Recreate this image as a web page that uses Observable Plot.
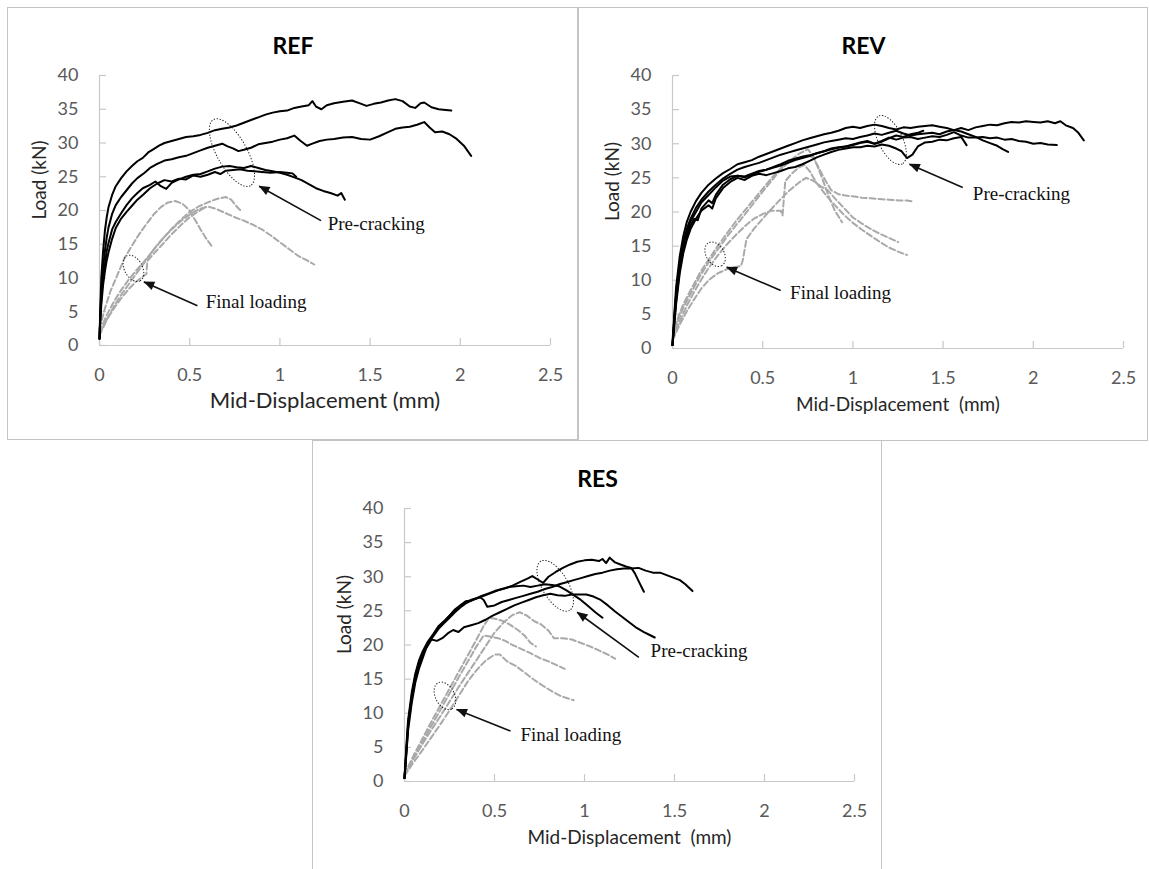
<!DOCTYPE html>
<html><head><meta charset="utf-8">
<script src="https://cdn.jsdelivr.net/npm/d3@7"></script>
<script src="https://cdn.jsdelivr.net/npm/@observablehq/plot@0.6"></script>
<style>
html,body{margin:0;padding:0;background:#fff;}
#page{position:relative;width:1149px;height:869px;overflow:hidden;background:#fff;}
.box{position:absolute;border:1px solid #c4c4c4;box-sizing:border-box;}
.chart{position:absolute;}
.chart svg{display:block;overflow:visible;}
</style></head><body><div id="page"></div>
<script>
// ---------- shared tick values ----------
const xTicks = [0, 0.5, 1, 1.5, 2, 2.5];
const yTicks = [0, 5, 10, 15, 20, 25, 30, 35, 40];

// ---------- REF ----------
const REF_pre = [
 [[0,1],[0.005,6],[0.01,10],[0.02,14],[0.03,17],[0.04,19],[0.05,20.5],[0.07,22.3],[0.09,23.6],[0.12,24.8],[0.15,25.8],[0.18,26.6],[0.21,27.3],[0.24,27.8],[0.27,28.6],[0.3,29.1],[0.33,29.6],[0.36,30.0],[0.4,30.3],[0.44,30.6],[0.48,30.9],[0.52,31.0],[0.56,31.2],[0.6,31.5],[0.64,31.9],[0.68,32.1],[0.72,32.3],[0.76,32.6],[0.8,33.0],[0.84,33.4],[0.88,33.8],[0.92,34.2],[0.96,34.5],[1.0,34.7],[1.04,34.8],[1.08,35.2],[1.12,35.4],[1.16,35.6],[1.18,36.2],[1.2,35.4],[1.23,35.0],[1.26,35.6],[1.3,35.9],[1.35,36.1],[1.4,36.3],[1.44,35.9],[1.48,35.5],[1.52,35.8],[1.56,36.0],[1.6,36.3],[1.64,36.5],[1.68,36.2],[1.72,35.4],[1.75,35.2],[1.78,35.9],[1.8,36.0],[1.84,35.3],[1.88,35.0],[1.92,34.9],[1.95,34.8]],
 [[0,1],[0.005,5],[0.01,8],[0.02,11.5],[0.03,14],[0.04,16],[0.05,17.5],[0.07,19.5],[0.09,20.8],[0.12,22.0],[0.15,23.0],[0.18,24.0],[0.21,24.8],[0.25,25.6],[0.28,26.3],[0.32,26.9],[0.36,27.4],[0.4,27.6],[0.44,27.9],[0.48,28.1],[0.52,28.5],[0.56,28.9],[0.6,29.3],[0.64,29.6],[0.68,29.9],[0.71,29.5],[0.74,29.2],[0.77,28.8],[0.8,29.0],[0.84,29.3],[0.88,29.8],[0.92,30.0],[0.96,30.2],[1.0,30.5],[1.04,30.7],[1.08,31.1],[1.11,30.4],[1.15,29.6],[1.18,29.9],[1.22,30.3],[1.26,30.5],[1.3,30.6],[1.35,30.8],[1.4,30.9],[1.45,30.6],[1.5,30.5],[1.55,31.0],[1.6,31.6],[1.64,32.1],[1.68,32.3],[1.72,32.4],[1.76,32.7],[1.8,33.1],[1.83,32.3],[1.86,31.6],[1.9,31.7],[1.94,31.3],[1.98,30.6],[2.02,29.6],[2.06,28.1]],
 [[0,1],[0.005,4.5],[0.01,7],[0.02,10],[0.03,12],[0.04,14],[0.05,15.2],[0.07,17.2],[0.09,18.3],[0.12,19.6],[0.15,20.8],[0.18,21.8],[0.21,22.6],[0.24,23.3],[0.28,23.8],[0.31,24.3],[0.34,23.6],[0.37,23.2],[0.4,24.1],[0.44,24.6],[0.48,25.0],[0.52,25.3],[0.56,25.4],[0.6,25.8],[0.64,26.2],[0.68,26.5],[0.72,26.6],[0.76,26.4],[0.8,26.3],[0.84,26.6],[0.88,26.3],[0.92,26.0],[0.96,25.8],[1.0,25.6],[1.04,25.3],[1.08,24.9],[1.12,24.5],[1.16,23.9],[1.2,23.3],[1.24,22.9],[1.28,22.6],[1.32,22.2],[1.34,22.6],[1.36,21.6]],
 [[0,1],[0.005,4],[0.01,6],[0.02,9],[0.03,11],[0.04,12.6],[0.05,13.8],[0.07,15.8],[0.09,17.4],[0.12,18.8],[0.15,19.8],[0.18,20.7],[0.21,21.6],[0.24,22.3],[0.28,23.3],[0.32,24.0],[0.36,24.5],[0.4,24.3],[0.44,24.7],[0.48,24.6],[0.52,25.2],[0.56,25.0],[0.6,25.3],[0.64,25.7],[0.67,25.4],[0.7,25.9],[0.74,26.0],[0.78,26.1],[0.82,25.9],[0.86,25.8],[0.9,25.7],[0.95,25.6],[1.0,25.7],[1.04,25.6],[1.07,25.5],[1.09,25.0]]
];
const REF_final = [
 [[0,2.5],[0.03,5.5],[0.06,8],[0.1,10.5],[0.14,13],[0.18,14.8],[0.22,16.5],[0.26,18],[0.3,19.4],[0.34,20.5],[0.38,21.2],[0.42,21.4],[0.46,21.0],[0.5,20.0],[0.53,18.6],[0.56,17.2],[0.59,15.9],[0.62,14.8]],
 [[0,1.5],[0.04,3.8],[0.08,5.8],[0.12,7.5],[0.16,9],[0.2,10.5],[0.25,12.3],[0.3,14.2],[0.35,15.8],[0.4,17.3],[0.45,18.6],[0.5,19.8],[0.55,20.6],[0.6,21.2],[0.65,21.7],[0.7,22.0],[0.73,21.6],[0.76,20.6],[0.79,19.8]],
 [[0,2],[0.04,4.5],[0.08,6.5],[0.12,8.2],[0.16,9.7],[0.2,11],[0.24,12.2],[0.28,13.5],[0.32,14.9],[0.36,16.1],[0.4,17.2],[0.45,18.4],[0.5,19.4],[0.55,20.2],[0.6,20.6],[0.65,20.2],[0.7,19.6],[0.75,19.0],[0.8,18.5],[0.85,17.9],[0.9,17.2],[0.95,16.3],[1.0,15.3],[1.05,14.3],[1.1,13.3],[1.15,12.6],[1.19,12.0]],
 [[0,1.8],[0.04,3.8],[0.08,5.5],[0.12,7],[0.16,8.3],[0.2,9.4],[0.24,10.2],[0.26,10.6],[0.265,12.5],[0.3,13.6],[0.35,15],[0.4,16.5],[0.45,17.8],[0.5,19],[0.55,19.9],[0.58,20.4]]
];
const REF_notes = [
 {label:"Pre-cracking", tx:1.265, ty:18.0, ax1:1.228, ay1:18.5, ax2:0.885, ay2:23.6},
 {label:"Final loading", tx:0.589, ty:6.4, ax1:0.543, ay1:5.9, ax2:0.246, ay2:9.4}
];
const REF_ellipses = [[0.635,33.4,0.839,23.6],[0.154,13.2,0.228,9.5]];

// ---------- REV ----------
const REV_pre = [
 [[0,0.5],[0.01,5],[0.02,9],[0.04,13.5],[0.06,16.5],[0.08,18.6],[0.1,20],[0.13,21.6],[0.16,22.8],[0.2,24],[0.24,24.9],[0.28,25.7],[0.32,26.3],[0.36,27],[0.4,27.3],[0.44,27.6],[0.48,28.1],[0.52,28.5],[0.56,28.9],[0.6,29.3],[0.64,29.7],[0.68,30.1],[0.72,30.5],[0.76,30.8],[0.8,31.1],[0.84,31.4],[0.88,31.6],[0.92,31.9],[0.96,32.3],[1.0,32.5],[1.04,32.3],[1.08,32.6],[1.12,32.8],[1.16,32.6],[1.2,32.3],[1.24,32.1],[1.28,32.4],[1.32,32.3],[1.36,32.5],[1.4,32.6],[1.44,32.7],[1.48,32.5],[1.52,32.3],[1.56,32.0],[1.6,31.8],[1.64,31.4],[1.68,31.0],[1.72,30.5],[1.76,30.1],[1.8,29.7],[1.83,29.2],[1.86,28.8]],
 [[0,0.5],[0.01,4.5],[0.02,8],[0.04,12.5],[0.06,15.5],[0.08,17.6],[0.1,19],[0.13,20.6],[0.16,21.8],[0.2,23],[0.24,24],[0.28,24.9],[0.32,25.6],[0.36,26.2],[0.4,26.6],[0.44,26.9],[0.48,27.2],[0.52,27.6],[0.56,28.0],[0.6,28.4],[0.64,28.7],[0.68,29.0],[0.72,29.3],[0.76,29.6],[0.8,29.9],[0.84,30.2],[0.88,30.4],[0.92,30.6],[0.96,30.8],[1.0,30.7],[1.04,31.0],[1.08,31.2],[1.12,31.5],[1.16,31.3],[1.2,31.6],[1.24,31.9],[1.28,31.5],[1.32,31.2],[1.36,31.4],[1.4,31.5],[1.44,31.6],[1.48,31.4],[1.52,31.8],[1.56,32.0],[1.6,32.3],[1.64,32.0],[1.68,32.4],[1.72,32.6],[1.76,32.8],[1.8,32.7],[1.84,33.0],[1.88,33.2],[1.92,33.1],[1.96,33.3],[2.0,33.2],[2.04,33.1],[2.08,33.3],[2.12,33.0],[2.15,33.3],[2.18,32.7],[2.22,32.3],[2.25,31.6],[2.28,30.5]],
 [[0,0.5],[0.01,4],[0.02,7.5],[0.04,12],[0.06,15],[0.08,17],[0.1,18.6],[0.13,20],[0.16,21.4],[0.2,22.5],[0.24,23.6],[0.28,24.6],[0.32,25.2],[0.36,25.3],[0.4,25.1],[0.44,25.5],[0.48,25.9],[0.52,26.2],[0.56,26.6],[0.6,27.0],[0.64,27.5],[0.68,27.8],[0.72,28.1],[0.76,28.3],[0.8,28.6],[0.84,28.9],[0.88,29.2],[0.92,29.4],[0.96,29.6],[1.0,29.8],[1.04,30.1],[1.08,30.3],[1.12,30.0],[1.16,30.4],[1.2,30.9],[1.24,30.6],[1.28,30.9],[1.32,31.0],[1.36,30.7],[1.4,30.9],[1.44,31.1],[1.48,31.0],[1.52,31.3],[1.56,31.7],[1.6,31.2],[1.64,30.9],[1.68,30.9],[1.72,31.0],[1.76,30.8],[1.8,30.9],[1.84,30.6],[1.88,30.7],[1.92,30.4],[1.96,30.3],[2.0,30.0],[2.04,30.1],[2.08,29.9],[2.13,29.8]],
 [[0,0.5],[0.01,4],[0.02,7],[0.04,11.5],[0.06,14.5],[0.08,16.5],[0.1,18],[0.12,19],[0.14,18.8],[0.16,20.5],[0.2,21.7],[0.22,21.3],[0.24,22.5],[0.28,24],[0.32,24.8],[0.36,25.3],[0.4,25.2],[0.44,25.6],[0.48,26.0],[0.52,26.2],[0.56,26.5],[0.6,26.8],[0.64,27.2],[0.68,27.6],[0.72,27.9],[0.76,28.2],[0.8,28.6],[0.84,28.9],[0.88,29.3],[0.92,29.5],[0.96,29.6],[1.0,29.9],[1.04,30.2],[1.08,30.4],[1.12,30.0],[1.16,30.3],[1.2,30.8],[1.24,31.2],[1.28,31.0],[1.32,31.4],[1.36,31.6],[1.39,31.9]],
 [[0,0.5],[0.01,3.5],[0.02,6.5],[0.04,11],[0.06,14],[0.08,16],[0.1,17.5],[0.13,19],[0.16,20.2],[0.2,21],[0.22,20.5],[0.24,22],[0.28,23.5],[0.32,24.4],[0.36,25],[0.4,24.7],[0.44,25.3],[0.48,25.6],[0.52,25.4],[0.56,25.7],[0.6,26.0],[0.64,26.4],[0.68,26.6],[0.72,27.0],[0.76,27.5],[0.8,28.0],[0.84,28.4],[0.88,28.8],[0.92,29.1],[0.96,29.3],[1.0,29.5],[1.04,29.5],[1.08,29.7],[1.12,29.6],[1.16,29.9],[1.2,29.7],[1.24,29.3],[1.27,28.9],[1.3,27.9],[1.33,28.4],[1.36,29.6],[1.4,30.2],[1.44,30.3],[1.48,30.6],[1.52,30.5],[1.56,30.8],[1.6,31.0],[1.63,29.8]]
];
const REV_final = [
 [[0,1.5],[0.03,4],[0.06,6],[0.1,8],[0.15,10.5],[0.2,12.6],[0.25,14.5],[0.3,16.3],[0.35,18.0],[0.4,19.6],[0.45,21.3],[0.5,23.0],[0.55,24.6],[0.6,26.2],[0.65,27.5],[0.7,28.5],[0.75,29.2],[0.78,28.2],[0.81,26.3],[0.84,24.2],[0.87,22.0],[0.9,20.2],[0.94,18.5]],
 [[0,1.8],[0.03,4.5],[0.06,6.5],[0.1,8.5],[0.15,11],[0.2,13],[0.25,15],[0.3,16.8],[0.35,18.6],[0.4,20.2],[0.45,21.8],[0.5,23.4],[0.55,25.0],[0.6,26.4],[0.65,27.4],[0.7,28.0],[0.75,28.3],[0.78,28.0],[0.81,26.5],[0.85,24.5],[0.88,23.2],[0.92,22.6],[0.96,22.4],[1.0,22.3],[1.05,22.1],[1.1,22.0],[1.15,21.9],[1.2,21.8],[1.26,21.7],[1.3,21.7],[1.34,21.5]],
 [[0,1.2],[0.04,3.5],[0.08,5.5],[0.12,7.2],[0.16,8.8],[0.2,10],[0.25,11],[0.3,11.6],[0.34,11.9],[0.38,12.1],[0.39,13],[0.41,16],[0.45,17.5],[0.5,19.0],[0.55,20.5],[0.6,21.9],[0.65,23.2],[0.7,24.3],[0.74,25.0],[0.78,24.6],[0.82,23.8],[0.86,23.2],[0.9,22.0],[0.95,20.6],[1.0,19.2],[1.05,18.3],[1.1,17.5],[1.15,16.8],[1.2,16.2],[1.25,15.6]],
 [[0,1.5],[0.04,4],[0.08,6.3],[0.12,8.3],[0.16,10.1],[0.2,11.8],[0.25,13.6],[0.3,15.2],[0.35,16.6],[0.4,17.9],[0.45,19.0],[0.5,19.7],[0.55,20.2],[0.6,20.2],[0.61,19.5],[0.625,24.5],[0.66,25.6],[0.7,26.5],[0.73,26.9],[0.76,26.0],[0.8,24.2],[0.85,22.5],[0.9,21.0],[0.95,19.6],[1.0,18.4],[1.05,17.4],[1.1,16.5],[1.15,15.6],[1.2,14.8],[1.25,14.2],[1.3,13.7]]
];
const REV_notes = [
 {label:"Pre-cracking", tx:1.665, ty:22.7, ax1:1.609, ay1:23.6, ax2:1.313, ay2:27.0},
 {label:"Final loading", tx:0.652, ty:8.1, ax1:0.6, ay1:8.5, ax2:0.3, ay2:11.9}
];
const REV_ellipses = [[1.146,34.0,1.276,26.97],[0.202,15.4,0.276,12.07]];

// ---------- RES ----------
const RES_pre = [
 [[0,0.5],[0.01,5],[0.02,9],[0.04,13],[0.06,15.8],[0.08,17.7],[0.1,19],[0.13,20.5],[0.16,21.6],[0.19,22.8],[0.22,23.5],[0.25,24.3],[0.28,25.2],[0.31,25.8],[0.34,26.4],[0.37,26.5],[0.4,26.8],[0.44,27.2],[0.48,27.6],[0.52,28.0],[0.56,28.3],[0.6,28.7],[0.64,29.2],[0.68,29.7],[0.71,30.1],[0.74,29.6],[0.77,29.1],[0.8,30.0],[0.84,30.7],[0.88,31.3],[0.92,31.8],[0.96,32.2],[1.0,32.4],[1.04,32.5],[1.08,32.3],[1.1,32.6],[1.12,32.0],[1.14,32.8],[1.17,32.1],[1.2,31.8],[1.23,31.5],[1.26,31.3],[1.28,30.5],[1.3,29.4],[1.33,27.8]],
 [[0,0.5],[0.01,4.5],[0.02,8.5],[0.04,12.5],[0.06,15.5],[0.08,17.3],[0.1,18.7],[0.13,20.3],[0.16,21.5],[0.19,22.6],[0.22,23.4],[0.25,24.3],[0.28,25],[0.31,25.7],[0.34,26.3],[0.38,26.7],[0.42,27.0],[0.44,26.6],[0.46,25.6],[0.5,25.8],[0.54,26.3],[0.58,26.6],[0.62,26.9],[0.66,27.2],[0.7,27.5],[0.74,27.8],[0.78,28.2],[0.82,28.5],[0.86,28.9],[0.9,29.2],[0.94,29.5],[0.98,29.8],[1.02,30.1],[1.06,30.4],[1.1,30.6],[1.14,30.9],[1.18,31.1],[1.22,31.2],[1.26,31.2],[1.3,31.3],[1.34,30.9],[1.38,30.6],[1.42,30.6],[1.46,30.2],[1.5,29.8],[1.53,29.5],[1.56,28.9],[1.6,27.9]],
 [[0,0.5],[0.01,4],[0.02,8],[0.04,12],[0.06,15],[0.08,17],[0.1,18.5],[0.13,20.2],[0.16,21.3],[0.19,22.4],[0.22,23.2],[0.25,24.0],[0.28,24.8],[0.31,25.5],[0.34,26.1],[0.38,26.6],[0.42,27.1],[0.46,27.5],[0.5,27.9],[0.54,28.2],[0.58,28.5],[0.62,28.6],[0.66,28.7],[0.7,28.5],[0.74,28.7],[0.78,28.9],[0.82,28.8],[0.86,28.6],[0.9,28.0],[0.94,27.3],[0.98,26.6],[1.02,25.7],[1.06,24.8],[1.1,24.0]],
 [[0,0.5],[0.01,4],[0.02,7.5],[0.04,11.5],[0.06,14.5],[0.08,16.5],[0.1,18],[0.12,19.5],[0.15,20.8],[0.18,20.6],[0.21,21.0],[0.24,21.7],[0.27,22.2],[0.3,21.9],[0.33,22.6],[0.37,22.9],[0.41,23.2],[0.45,23.7],[0.49,24.3],[0.53,24.8],[0.57,25.3],[0.61,25.8],[0.65,26.2],[0.69,26.6],[0.73,27.0],[0.77,27.3],[0.81,27.5],[0.85,27.3],[0.89,27.2],[0.93,27.4],[0.97,27.4],[1.01,27.4],[1.05,27.1],[1.09,26.6],[1.13,25.8],[1.17,24.9],[1.21,24.1],[1.25,23.3],[1.29,22.5],[1.33,21.9],[1.36,21.5],[1.39,21.1]]
];
const RES_final = [
 [[0,1],[0.05,3.8],[0.1,6.3],[0.15,8.8],[0.2,11.2],[0.25,13.6],[0.3,16],[0.35,18.4],[0.4,20.8],[0.44,22.8],[0.47,24.0],[0.51,23.8],[0.55,23.5],[0.59,22.9],[0.63,22.2],[0.67,21.3],[0.7,20.3],[0.73,19.8]],
 [[0,1],[0.05,3.3],[0.1,5.5],[0.15,7.6],[0.2,9.6],[0.25,11.7],[0.3,13.8],[0.35,15.8],[0.4,17.8],[0.45,19.8],[0.5,21.8],[0.55,23.3],[0.6,24.4],[0.64,24.8],[0.68,24.3],[0.72,23.5],[0.76,23.0],[0.8,22.1],[0.83,21.0],[0.88,21.0],[0.93,20.8],[0.98,20.3],[1.03,19.8],[1.08,19.2],[1.13,18.6],[1.17,18.0]],
 [[0,1],[0.05,3.5],[0.1,5.8],[0.15,8.2],[0.2,10.5],[0.25,12.9],[0.3,15.2],[0.35,17.5],[0.4,19.8],[0.44,21.4],[0.48,21.2],[0.52,21.0],[0.56,20.6],[0.6,20.0],[0.65,19.4],[0.7,18.8],[0.75,18.1],[0.8,17.6],[0.85,17.0],[0.89,16.5]],
 [[0,0.8],[0.05,2.8],[0.1,4.6],[0.15,6.5],[0.2,8.4],[0.25,10.4],[0.3,12.5],[0.35,14.6],[0.4,16.3],[0.45,17.7],[0.5,18.6],[0.53,18.6],[0.57,17.6],[0.62,16.9],[0.67,15.9],[0.72,14.9],[0.77,14.0],[0.82,13.2],[0.87,12.5],[0.94,11.9]]
];
const RES_notes = [
 {label:"Pre-cracking", tx:1.367, ty:19.2, ax1:1.302, ay1:18.2, ax2:0.959, ay2:24.8},
 {label:"Final loading", tx:0.644, ty:6.8, ax1:0.589, ay1:7.4, ax2:0.289, ay2:10.55}
];
const RES_ellipses = [[0.76,32.2,0.92,25.0],[0.19,14.4,0.265,10.55]];

// ---------- layout (pixels) ----------
const panels = [
 {name:"REF", xlabel:"Mid-Displacement (mm)", xlabelSize:22, pre:REF_pre, fin:REF_final, notes:REF_notes, ell:REF_ellipses, minor:[15,9],
  box:{left:7, top:7, w:571, h:433}, m:{l:92, r:28, t:68, b:95}},
 {name:"REV", xlabel:"Mid-Displacement\u00a0 (mm)", xlabelSize:19, pre:REV_pre, fin:REV_final, notes:REV_notes, ell:REV_ellipses, minor:[12,9],
  box:{left:578, top:7, w:570, h:434}, m:{l:94, r:25, t:68, b:93}},
 {name:"RES", xlabel:"Mid-Displacement\u00a0 (mm)", xlabelSize:19, pre:RES_pre, fin:RES_final, notes:RES_notes, ell:RES_ellipses, minor:[13,9.5],
  box:{left:312, top:440, w:570, h:440}, m:{l:92, r:28, t:68, b:99}}
];

function toRows(curves, tag) {
  const rows = [];
  curves.forEach((c, i) => c.forEach(([x, y]) => rows.push({x, y, id: tag + i})));
  return rows;
}

// dotted ellipses drawn through the plot's own scales
function ellipseMark(list, minor) {
  return (index, scales) => {
    const g = d3.create("svg:g").attr("fill", "none").attr("stroke", "#222")
      .attr("stroke-width", 1).attr("stroke-dasharray", "1.3,1.7");
    list.forEach((e, i) => {
      const x1 = scales.x(e[0]), y1 = scales.y(e[1]), x2 = scales.x(e[2]), y2 = scales.y(e[3]);
      const cx = (x1 + x2) / 2, cy = (y1 + y2) / 2;
      const rx = Math.hypot(x2 - x1, y2 - y1) / 2;
      const ang = Math.atan2(y2 - y1, x2 - x1) * 180 / Math.PI;
      g.append("ellipse").attr("cx", cx).attr("cy", cy).attr("rx", rx).attr("ry", minor[i])
        .attr("transform", `rotate(${ang},${cx},${cy})`);
    });
    return g.node();
  };
}

// filled triangular arrow heads at (ax2, ay2)
function headMark(notes) {
  return (index, scales) => {
    const g = d3.create("svg:g").attr("fill", "#111").attr("stroke", "none");
    notes.forEach(n => {
      const x1 = scales.x(n.ax1), y1 = scales.y(n.ay1), x2 = scales.x(n.ax2), y2 = scales.y(n.ay2);
      const L = Math.hypot(x2 - x1, y2 - y1), ux = (x2 - x1) / L, uy = (y2 - y1) / L;
      const hl = 11, hw = 4.5;
      const bx = x2 - ux * hl, by = y2 - uy * hl;
      g.append("path").attr("d",
        `M${x2},${y2}L${bx - uy * hw},${by + ux * hw}L${bx + uy * hw},${by - ux * hw}Z`);
    });
    return g.node();
  };
}

const page = document.getElementById("page");
const serif = "'Liberation Serif','Times New Roman',serif";
const sans = "Lato, 'Open Sans', sans-serif";

panels.forEach(p => {
  const b = p.box, m = p.m;
  const frameW = b.w - m.l - m.r, frameH = b.h - m.t - m.b;
  const titleDx = b.w / 2 - (m.l + frameW / 2);
  const chart = Plot.plot({
    width: b.w, height: b.h,
    marginLeft: m.l, marginRight: m.r, marginTop: m.t, marginBottom: m.b,
    x: {domain: [0, 2.5], axis: null},
    y: {domain: [0, 40], axis: null},
    style: {fontFamily: sans, background: "transparent", overflow: "visible"},
    marks: [
      Plot.ruleY([0], {stroke: "#c8c8c8", strokeWidth: 1.2}),
      Plot.ruleX([0], {stroke: "#c8c8c8", strokeWidth: 1.2}),
      Plot.tickX(xTicks, {x: d => d, stroke: "#c8c8c8", strokeWidth: 1.2, insetTop: frameH - 7}),
      Plot.tickY(yTicks, {y: d => d, stroke: "#c8c8c8", strokeWidth: 1.2, insetRight: frameW - 7}),
      Plot.axisX(xTicks, {tickSize: 0, tickPadding: 23, tickFormat: d => String(d), label: null, fontSize: 18, fill: "#595959", fontFamily: sans}),
      Plot.axisY(yTicks, {tickSize: 0, tickPadding: 21, tickFormat: d => String(d), label: null, fontSize: 18, fill: "#595959", fontFamily: sans}),
      Plot.line(toRows(p.fin, "f"), {x: "x", y: "y", z: "id", stroke: "#a9a9a9", strokeWidth: 2, strokeDasharray: "6,3"}),
      Plot.line(toRows(p.pre, "p"), {x: "x", y: "y", z: "id", stroke: "#000", strokeWidth: 2}),
      ellipseMark(p.ell, p.minor),
      Plot.link(p.notes, {x1: "ax1", y1: "ay1", x2: "ax2", y2: "ay2", stroke: "#111", strokeWidth: 1.6, insetEnd: 8}),
      headMark(p.notes),
      Plot.text(p.notes, {x: "tx", y: "ty", text: "label", textAnchor: "start", fontFamily: serif, fontSize: 19, fill: "#111"}),
      Plot.text([p.name], {frameAnchor: "top", dy: -38, dx: titleDx, text: d => d, fontWeight: "bold", fontSize: 23, fill: "#000"}),
      Plot.text([p.xlabel], {frameAnchor: "bottom", dy: 62, text: d => d, fontSize: p.xlabelSize, fill: "#262626"}),
      Plot.text(["Load (kN)"], {frameAnchor: "left", dx: -60, dy: 9, rotate: -90, text: d => d, fontSize: 19, fill: "#262626"})
    ]
  });
  const box = document.createElement("div");
  box.className = "box";
  Object.assign(box.style, {left: b.left + "px", top: b.top + "px", width: b.w + "px", height: b.h + "px"});
  page.appendChild(box);
  const wrap = document.createElement("div");
  wrap.className = "chart";
  Object.assign(wrap.style, {left: b.left + "px", top: b.top + "px"});
  wrap.appendChild(chart);
  page.appendChild(wrap);
});
</script></body></html>
